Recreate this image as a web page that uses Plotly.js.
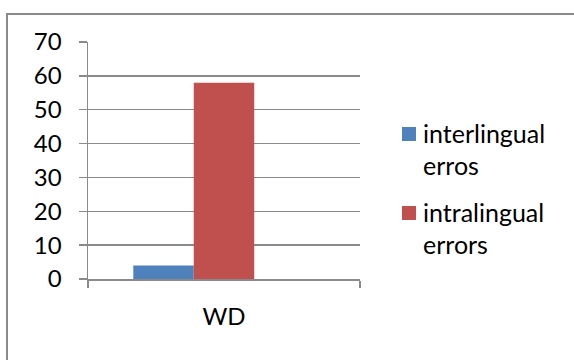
<!DOCTYPE html>
<html>
<head>
<meta charset="utf-8">
<script src="https://cdn.plot.ly/plotly-3.0.1.min.js"></script>
<style>
  html, body { margin: 0; padding: 0; background: #fff; overflow: hidden; }
  #wrap { position: relative; width: 574px; height: 360px; overflow: hidden; }
  #frame { position: absolute; left: 6px; top: 13px; width: 600px; height: 400px;
           border: 2px solid #8a8a8a; box-sizing: border-box; pointer-events: none; }
  #chart { position: absolute; left: 0; top: 0; width: 574px; height: 360px; }
</style>
</head>
<body>
<div id="wrap">
  <div id="frame"></div>
  <div id="chart"></div>
</div>
<script>
// Error counts per category
const categories = ['WD'];
const seriesNames = ['interlingual erros', 'intralingual errors'];
const interlingual = [4];
const intralingual = [58];
const emptySeries = [null];   // third, empty series slot
const yTicks = [0, 10, 20, 30, 40, 50, 60, 70];

const colors = ['#4F81BD', '#C0504D'];
const gridColor = '#8a8a8a';
const font = 'Lato, "Open Sans", sans-serif';
const fontSize = 24;

const traces = [
  { type: 'bar', x: categories, y: interlingual, name: seriesNames[0],
    marker: { color: colors[0] }, showlegend: false, hoverinfo: 'none' },
  { type: 'bar', x: categories, y: intralingual, name: seriesNames[1],
    marker: { color: colors[1] }, showlegend: false, hoverinfo: 'none' },
  { type: 'bar', x: categories, y: emptySeries, name: '',
    showlegend: false, hoverinfo: 'none' }
];

// Legend drawn as swatches plus word-wrapped labels
const shapes = [];
const annotations = [];
const legendX = 402, swatch = 14;
const legendTops = [127, 206];
const lineGap = 32;
seriesNames.forEach((name, i) => {
  const top = legendTops[i];
  shapes.push({ type: 'rect', xref: 'paper', yref: 'paper',
    x0: (legendX - 88) / 272, x1: (legendX + swatch - 88) / 272,
    y0: (279 - top) / 237, y1: (279 - top - swatch) / 237,
    fillcolor: colors[i], line: { width: 0 } });
  const words = name.split(' ');
  words.forEach((w, j) => {
    annotations.push({ xref: 'paper', yref: 'paper',
      x: (legendX + swatch + 5 - 88) / 272,
      y: (279 - (top + swatch / 2 - 1 + j * lineGap)) / 237,
      xanchor: 'left', yanchor: 'middle', showarrow: false,
      text: w, font: { family: font, size: 25, color: '#000' } });
  });
});

const layout = {
  width: 574, height: 360,
  margin: { l: 88, r: 214, t: 42, b: 81, pad: 0 },
  paper_bgcolor: 'rgba(0,0,0,0)', plot_bgcolor: 'rgba(0,0,0,0)',
  barmode: 'group', bargap: 0.333, bargroupgap: 0,
  showlegend: false,
  font: { family: font, size: fontSize, color: '#000' },
  xaxis: {
    type: 'category', showgrid: false, zeroline: false,
    showline: true, linecolor: gridColor, linewidth: 1.5,
    ticks: 'outside', tickson: 'boundaries', ticklen: 7,
    tickcolor: gridColor, tickwidth: 1.5,
    ticklabelstandoff: 16,
    tickfont: { family: font, size: fontSize, color: '#000' }
  },
  yaxis: {
    range: [0, 70], tickvals: yTicks, ticktext: yTicks.map(String),
    showgrid: true, gridcolor: gridColor, gridwidth: 1.5,
    zeroline: false, showline: true, linecolor: gridColor, linewidth: 1.5,
    ticks: 'outside', ticklen: 8, tickcolor: gridColor, tickwidth: 1.5,
    ticklabelstandoff: 12,
    tickfont: { family: font, size: fontSize, color: '#000' }
  },
  shapes: shapes,
  annotations: annotations
};

Plotly.newPlot('chart', traces, layout, { staticPlot: true, displayModeBar: false });
</script>
</body>
</html>
